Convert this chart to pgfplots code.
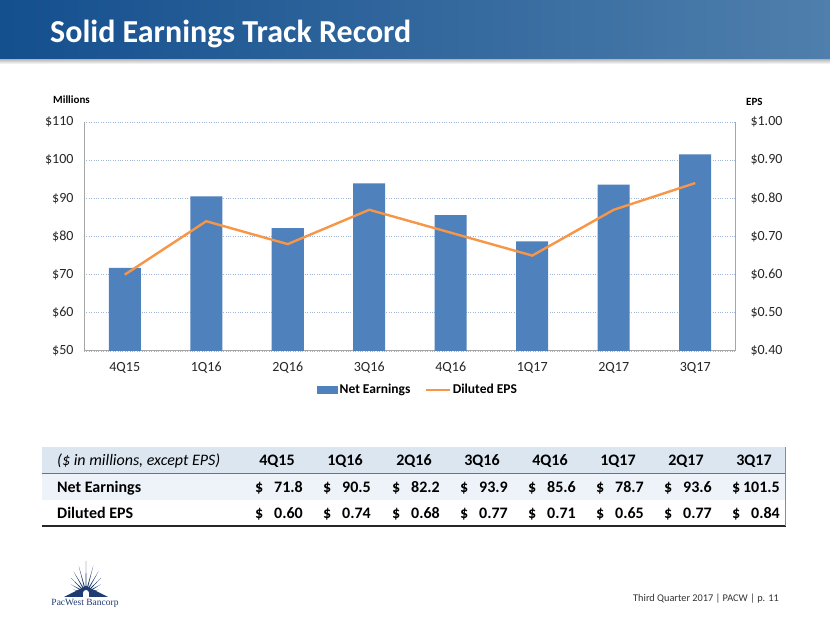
\documentclass[border=0pt]{standalone}
\usepackage{pgfplots}
\pgfplotsset{compat=1.18}
\usepackage{fontspec}
\setmainfont{Carlito}
\newfontfamily\logoserif{Liberation Serif}
\definecolor{barblue}{HTML}{4F81BD}
\definecolor{epsorange}{HTML}{F79646}
\definecolor{gridc}{HTML}{9FB6D6}
\definecolor{axisc}{HTML}{A6A6A6}
\definecolor{titleL}{HTML}{144F8E}
\definecolor{titleR}{HTML}{4F7FAC}
\definecolor{hdrbg}{HTML}{DCE6F1}
\definecolor{rowbg}{HTML}{EEF3F9}
\definecolor{logoblue}{HTML}{1E3C72}
\begin{document}
\begin{tikzpicture}
\path[use as bounding box, fill=white] (0pt,0pt) rectangle (830pt,623pt);

\begin{axis}[
  at={(84pt,272pt)}, anchor=south west, scale only axis,
  width=652pt, height=229pt,
  xmin=-0.5, xmax=7.5, ymin=50, ymax=110,
  xtick={0,1,2,3,4,5,6,7},
  xticklabels={4Q15,1Q16,2Q16,3Q16,4Q16,1Q17,2Q17,3Q17},
  ytick={50,60,70,80,90,100,110},
  yticklabels={\$50,\$60,\$70,\$80,\$90,\$100,\$110},
  axis x line*=bottom, axis y line*=left,
  axis line style={draw=axisc, line width=1pt, -},
  major tick length=0pt,
  ymajorgrids, grid style={gridc, dotted, line width=0.8pt},
  tick label style={font=\fontsize{14}{16}\selectfont, text=black!85},
  xticklabel style={yshift=-8pt},
  yticklabel style={xshift=-7pt},
  legend style={at={(0.512,-0.17)}, anchor=center, draw=none, fill=none,
    font=\bfseries\fontsize{13.5}{16}\selectfont, legend columns=2,
    /tikz/every even column/.append style={column sep=12pt}},
]
\addplot[ybar, bar width=32pt, fill=barblue, draw=none,
  legend image code/.code={\fill[barblue] (0pt,-4pt) rectangle (21pt,4pt);}]
  coordinates {(0,71.8) (1,90.5) (2,82.2) (3,93.9) (4,85.6) (5,78.7) (6,93.6) (7,101.5)};
\addlegendentry{Net Earnings}
\addlegendimage{epsorange, line width=2.4pt,
  legend image code/.code={\draw[epsorange, line width=2.4pt] (0pt,0pt) -- (24pt,0pt);}}
\addlegendentry{Diluted EPS}
\end{axis}

\begin{axis}[
  at={(84pt,272pt)}, anchor=south west, scale only axis,
  width=652pt, height=229pt,
  xmin=-0.5, xmax=7.5, ymin=0.4, ymax=1.0,
  axis x line=none, axis y line*=right,
  axis line style={draw=axisc, line width=1pt, -},
  major tick length=0pt,
  ytick={0.4,0.5,0.6,0.7,0.8,0.9,1.0},
  yticklabels={\$0.40,\$0.50,\$0.60,\$0.70,\$0.80,\$0.90,\$1.00},
  tick label style={font=\fontsize{14}{16}\selectfont, text=black!85},
  yticklabel style={xshift=11pt},
]
\addplot[epsorange, line width=2.4pt, no markers]
  coordinates {(0,0.60) (1,0.74) (2,0.68) (3,0.77) (4,0.71) (5,0.65) (6,0.77) (7,0.84)};
\end{axis}

\begin{scope}[x=1pt, y=-1pt, yshift=623pt]
% title bar
\shade[top color=black!35, bottom color=white] (0,58) rectangle (830,64);
\shade[left color=titleL, right color=titleR] (0,0) rectangle (830,59);
\node[anchor=base west, text=white, inner sep=0pt, font=\fontsize{32}{38}\selectfont\bfseries] at (50,43) {Solid Earnings Track Record};

% axis titles
\node[anchor=base west, inner sep=0pt, font=\bfseries\fontsize{11}{13}\selectfont] at (53,104) {Millions};
\node[anchor=base west, inner sep=0pt, font=\bfseries\fontsize{11}{13}\selectfont] at (746,106) {EPS};

% table
\fill[hdrbg] (42,447) rectangle (785,473);
\fill[rowbg] (42,474) rectangle (785,500);
\draw[black!55, line width=1pt] (42,473.5) -- (785,473.5);
\draw[black!85, line width=2pt] (42,526) -- (786,526);
\draw[black!45, line width=1.5pt] (785.5,447) -- (785.5,526);
\node[anchor=base west, inner sep=0pt, font=\itshape\fontsize{16}{18}\selectfont] at (57,466) {(\$ in millions, except EPS)};
\node[anchor=base west, inner sep=0pt, font=\bfseries\fontsize{16}{18}\selectfont] at (57,493) {Net Earnings};
\node[anchor=base west, inner sep=0pt, font=\bfseries\fontsize{16}{18}\selectfont] at (57,519) {Diluted EPS};
\foreach \c/\q/\n/\e in {277/4Q15/71.8/0.60, 345/1Q16/90.5/0.74, 414/2Q16/82.2/0.68, 482/3Q16/93.9/0.77, 550/4Q16/85.6/0.71, 618/1Q17/78.7/0.65, 686/2Q17/93.6/0.77, 754/3Q17/101.5/0.84}{
  \node[anchor=base, inner sep=0pt, font=\bfseries\fontsize{16}{18}\selectfont] at (\c,466) {\q};
  \node[anchor=base west, inner sep=0pt, font=\bfseries\fontsize{16}{18}\selectfont] at (\c-22,493) {\$};
  \node[anchor=base east, inner sep=0pt, font=\bfseries\fontsize{16}{18}\selectfont] at (\c+26,493) {\n};
  \node[anchor=base west, inner sep=0pt, font=\bfseries\fontsize{16}{18}\selectfont] at (\c-22,519) {\$};
  \node[anchor=base east, inner sep=0pt, font=\bfseries\fontsize{16}{18}\selectfont] at (\c+26,519) {\e};
}

% logo
\foreach \a/\r in {15/13, 30/17, 45/21, 60/25, 75/28, 90/32, 105/28, 120/25, 135/21, 150/17, 165/13}{
  \fill[logoblue] ([shift={(-\a+5:6)}]86,593) -- ([shift={(-\a:\r)}]86,593) -- ([shift={(-\a-5:6)}]86,593) -- cycle;
}
\fill[logoblue] (64,597) -- (86,586) -- (108,597) -- cycle;
\fill[white] (83,597) rectangle (89,593);
\fill[white] (86,593) circle (3);
\node[anchor=base, inner sep=0pt, text=logoblue, font=\logoserif\fontsize{9.5}{11}\selectfont] at (85,606) {PacWest Bancorp};

% footer
\node[anchor=base east, inner sep=0pt, text=black!80, font=\fontsize{10.3}{12}\selectfont] at (779,602) {Third Quarter 2017 | PACW | p. 11};
\end{scope}
\end{tikzpicture}
\end{document}
